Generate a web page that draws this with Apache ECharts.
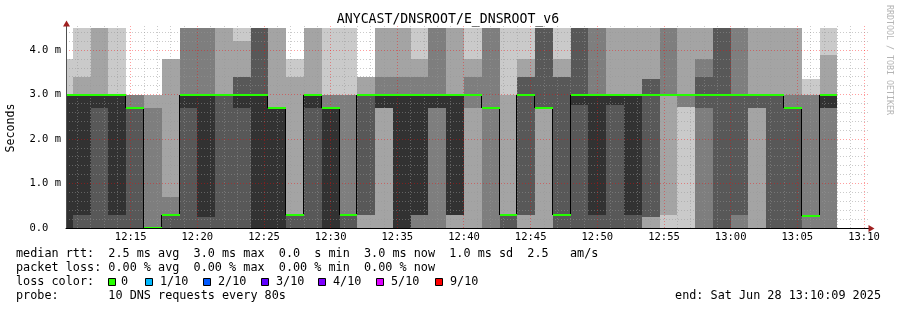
<!DOCTYPE html>
<html><head><meta charset="utf-8">
<script src="https://cdn.jsdelivr.net/npm/echarts@6/dist/echarts.min.js"></script>
<style>html,body{margin:0;padding:0;background:#fff}#chart{width:897px;height:310px}</style>
</head><body><div id="chart"></div>
<script>
// ---------------- DATA ----------------
const viewStart = "12:10:09";
const viewEnd = "13:10:09";
const stepSeconds = 80;
const colStart = ["12:09:20","12:10:40","12:12:00","12:13:20","12:14:40","12:16:00","12:17:20","12:18:40","12:20:00","12:21:20",
  "12:22:40","12:24:00","12:25:20","12:26:40","12:28:00","12:29:20","12:30:40","12:32:00","12:33:20","12:34:40",
  "12:36:00","12:37:20","12:38:40","12:40:00","12:41:20","12:42:40","12:44:00","12:45:20","12:46:40","12:48:00",
  "12:49:20","12:50:40","12:52:00","12:53:20","12:54:40","12:56:00","12:57:20","12:58:40","13:00:00","13:01:20",
  "13:02:40","13:04:00","13:05:20","13:06:40"];
// sorted ping ranks (ms), 10 pings per column
const p1 = [0,0,0,0,0,0,0,0,0,0, 0,0,0,0,0,0,0,0,0,0, 0,0,0,0,0,0,0,0,0,0, 0,0,0,0,0,0,0,0,0,0, 0,0,0,0];
const p2 = [0,0,0,0,0,0,0,0,0,0, 0,0,0,0,0,0,0,0,0,0, 0,0,0,0,0,0,0,0,0,0, 0,0,0,0,0.3,2.73,0,0,0,0, 0,0,0,0];
const p3 = [0,0,0,0,0,0,0,0,0,0, 0,0,0,0,0,0,0,0.3,2.7,0, 0,0,0.3,2.7,0,0,0.3,2.7,0,0, 0,0,0,0.25,3.0,2.73,0,0,0,2.7, 0,0,0,0];
const p4 = [0,0,0,0,0,0,0,0,0,0, 0,0,0,0,0,0,0,0.3,2.7,0, 0.3,2.7,0.3,3.0,2.7,0,0.3,2.7,0,0, 0,0,0,0.25,3.0,3.0,2.7,0,0.3,2.7, 0,0,0.28,2.7];
const p5 = [0,0.3,2.7,0.3,2.7,0,0.3,2.7,0.25,3.0, 2.7,0,0,0.3,2.7,0,0.3,3.0,2.7,0, 0.3,2.7,0.3,3.0,2.7,0.3,3.0,2.7,0.3,2.77, 0.3,2.77,0.3,3.0,3.0,3.0,3.0,3.0,3.0,3.0, 3.0,2.7,0.28,2.7];
const p6 = [3.0,3.0,3.0,3.0,2.7,0,0.3,3.0,3.0,3.0, 3.0,3.0,2.7,0.3,3.0,2.7,0.3,3.0,3.0,3.0, 3.0,3.0,3.0,3.0,2.7,0.3,3.0,2.7,0.3,3.0, 3.0,3.0,3.0,3.0,3.0,3.0,3.0,3.0,3.0,3.0, 3.0,2.7,0.28,3.0];
const p7 = [3.0,3.0,3.0,3.0,2.7,0,0.3,3.0,3.0,3.0, 3.4,4.6,2.7,0.3,3.0,2.7,0.3,3.0,3.0,3.0, 3.0,3.0,3.0,3.0,2.7,0.3,3.4,4.6,3.4,4.6, 3.0,3.0,3.0,3.35,3.0,3.0,3.4,4.6,3.0,3.0, 3.0,2.7,0.28,3.0];
const p8 = [3.0,3.0,3.0,3.0,3.0,2.7,0.7,4.6,4.6,3.0, 3.4,4.6,2.7,0.3,3.0,3.0,3.0,3.0,3.4,3.4, 3.4,4.6,3.0,3.4,4.6,0.3,3.4,4.6,3.4,4.6, 4.6,3.0,3.0,3.35,4.6,3.0,3.8,4.6,4.6,3.0, 3.0,3.0,3.0,3.0];
const p9 = [3.0,3.4,4.6,3.0,3.0,3.0,3.8,4.6,4.6,4.6, 4.2,4.6,4.6,3.4,4.6,3.0,3.0,3.4,4.6,4.6, 3.8,4.6,4.6,3.8,4.6,3.0,3.8,4.6,3.8,4.6, 4.6,4.6,4.6,4.6,4.6,4.6,4.6,4.6,4.6,4.6, 4.6,4.6,3.0,3.9];
const p10 = [3.8,4.6,4.6,4.6,3.0,3.0,3.8,4.6,4.6,4.6, 4.6,4.6,4.6,3.8,4.6,4.6,4.6,3.4,4.6,4.6, 4.6,4.6,4.6,4.6,4.6,4.6,4.6,4.6,4.6,4.6, 4.6,4.6,4.6,4.6,4.6,4.6,4.6,4.6,4.6,4.6, 4.6,4.6,3.35,4.6];
const median = [3.0,3.0,3.0,3.0,2.7,0,0.3,3.0,3.0,3.0, 3.0,3.0,2.7,0.3,3.0,2.7,0.3,3.0,3.0,3.0, 3.0,3.0,3.0,3.0,2.7,0.3,3.0,2.7,0.3,3.0, 3.0,3.0,3.0,3.0,3.0,3.0,3.0,3.0,3.0,3.0, 3.0,2.7,0.28,3.0];

const xTickLabels = ["12:15","12:20","12:25","12:30","12:35","12:40","12:45","12:50","12:55","13:00","13:05","13:10"];
const gridMinutes = ["12:11","12:12","12:13","12:14","12:16","12:17","12:18","12:19","12:21","12:22","12:23","12:24",
  "12:26","12:27","12:28","12:29","12:31","12:32","12:33","12:34","12:36","12:37","12:38","12:39","12:41","12:42","12:43","12:44",
  "12:46","12:47","12:48","12:49","12:51","12:52","12:53","12:54","12:56","12:57","12:58","12:59","13:01","13:02","13:03","13:04",
  "13:06","13:07","13:08","13:09"];
const yTickValues = [0,1,2,3,4];
const yTickLabels = ["0.0  ","1.0 m","2.0 m","3.0 m","4.0 m"];
const yMinorValues = [0.2,0.4,0.6,0.8,1.2,1.4,1.6,1.8,2.2,2.4,2.6,2.8,3.2,3.4,3.6,3.8,4.2,4.4];

const lossLabels = ["0","1/10","2/10","3/10","4/10","5/10","9/10"];
const lossColors = ["#26ff00","#00b8ff","#0059ff","#5e00ff","#7e00ff","#dd00ff","#ff0000"];

const legendLines = [
  "median rtt:  2.5 ms avg  3.0 ms max  0.0  s min  3.0 ms now  1.0 ms sd  2.5   am/s",
  "packet loss: 0.00 % avg  0.00 % max  0.00 % min  0.00 % now",
  "loss color:",
  "probe:       10 DNS requests every 80s"
];
const endText = "end: Sat Jun 28 13:10:09 2025";
const titleText = "ANYCAST/DNSROOT/E_DNSROOT_v6";

// ---------------- BUILD ----------------
const toSec = s => { const a = s.split(':').map(Number); return (a[0]-12)*3600 + a[1]*60 + (a[2]||0); };
const pad = n => String(n).padStart(2,'0');
const fmtTime = v => { const h = 12 + Math.floor(v/3600); const m = Math.floor((v%3600)/60); return pad(h)+':'+pad(m); };
const FONT = '"DejaVu Sans Mono"';
const shades = ['#cacaca','#a4a4a4','#7e7e7e','#585858','#323232'];
const ranks = [p1,p2,p3,p4,p5,p6,p7,p8,p9,p10];

const smokeData = colStart.map((t,i) => [toSec(t), toSec(t)+stepSeconds].concat(ranks.map(r => r[i])));
const medianData = colStart.map((t,i) => [toSec(t), toSec(t)+stepSeconds, median[i]]);
const connData = [];
for (let i = 1; i < colStart.length; i++) {
  if (median[i] !== median[i-1]) connData.push([toSec(colStart[i]), median[i-1], median[i]]);
}
const majorSet = xTickLabels.map(toSec);
const vGridData = majorSet.map(v => [v, 1]).concat(gridMinutes.map(m => [toSec(m), 0]));
const hGridData = yTickValues.filter(v => v > 0).map(v => [v, 1]).concat(yMinorValues.map(v => [v, 0]));

const chart = echarts.init(document.getElementById('chart'), null, {renderer:'canvas'});
const clipBox = cs => ({x: cs.x, y: cs.y, width: cs.width, height: cs.height});

const option = {
  animation: false,
  backgroundColor: '#ffffff',
  grid: {left: 66, top: 28, width: 800, height: 200, containLabel: false, outerBoundsMode: 'none'},
  xAxis: {
    type: 'value', min: toSec(viewStart), max: toSec(viewEnd), z: 10,
    axisLine: {show: true, lineStyle: {color: '#000', width: 1}},
    axisTick: {show: false}, splitLine: {show: false}, minorSplitLine: {show: false},
    axisLabel: {customValues: majorSet, formatter: v => (majorSet.indexOf(v) >= 0 ? fmtTime(v) : ''),
      fontFamily: 'DejaVu Sans Mono', fontSize: 10.5, color: '#000', margin: 4, showMinLabel: true, showMaxLabel: true}
  },
  yAxis: {
    type: 'value', min: 0, max: 4.5, interval: 1, z: 10,
    axisLine: {show: true, lineStyle: {color: '#505050', width: 1}},
    axisTick: {show: false}, splitLine: {show: false},
    axisLabel: {customValues: yTickValues, formatter: v => { const i = yTickValues.indexOf(v); return i >= 0 ? yTickLabels[i] : ''; },
      fontFamily: 'DejaVu Sans Mono', fontSize: 10.5, color: '#000', margin: 5},
    name: 'Seconds', nameLocation: 'middle', nameGap: 55, nameRotate: 90,
    nameTextStyle: {fontFamily: 'DejaVu Sans Mono', fontSize: 11.6, color: '#000', verticalAlign: 'middle'}
  },
  series: [
    {
      type: 'custom', name: 'smoke', z: 2, silent: true,
      encode: {x: [0,1], y: [2,3,4,5,6,7,8,9,10,11]},
      data: smokeData,
      renderItem: (params, api) => {
        const cs = params.coordSys;
        const xs = Math.round(api.coord([api.value(0), 0])[0]);
        const xe = Math.round(api.coord([api.value(1), 0])[0]);
        const children = [];
        for (let k = 0; k < 5; k++) {
          const lo = api.value(2 + k), hi = api.value(11 - k);
          if (!(hi > lo)) continue;
          const yT = Math.round(api.coord([0, hi])[1]);
          const yB = Math.round(api.coord([0, lo])[1]);
          const shape = echarts.graphic.clipRectByRect({x: xs, y: yT, width: xe - xs, height: yB - yT}, clipBox(cs));
          if (shape && shape.width > 0 && shape.height > 0) children.push({type: 'rect', shape: shape, style: {fill: shades[k]}});
        }
        return {type: 'group', children: children};
      }
    },
    {
      type: 'custom', name: 'vgrid', z: 3, silent: true,
      encode: {x: 0}, data: vGridData,
      renderItem: (params, api) => {
        const cs = params.coordSys;
        const x = Math.floor(api.coord([api.value(0), 0])[0]) + 0.5;
        const major = api.value(1) === 1;
        return {type: 'line', shape: {x1: x, y1: cs.y - 2, x2: x, y2: cs.y + cs.height},
          style: {stroke: major ? 'rgba(255,0,0,0.38)' : 'rgba(150,150,150,0.5)', lineWidth: 1, lineDash: [1,2]}};
      }
    },
    {
      type: 'custom', name: 'hgrid', z: 3, silent: true,
      encode: {y: 0}, data: hGridData,
      renderItem: (params, api) => {
        const cs = params.coordSys;
        const y = Math.floor(api.coord([0, api.value(0)])[1]) + 0.5;
        const major = api.value(1) === 1;
        return {type: 'line', shape: {x1: cs.x, y1: y, x2: cs.x + cs.width + 2, y2: y},
          style: {stroke: major ? 'rgba(255,0,0,0.38)' : 'rgba(150,150,150,0.5)', lineWidth: 1, lineDash: [1,2]}};
      }
    },
    {
      type: 'custom', name: 'median-steps', z: 4, silent: true,
      encode: {x: 0, y: [1,2]}, data: connData,
      renderItem: (params, api) => {
        const x = Math.round(api.coord([api.value(0), 0])[0]) - 0.5;
        const y1 = Math.round(api.coord([0, api.value(1)])[1]);
        const y2 = Math.round(api.coord([0, api.value(2)])[1]);
        return {type: 'line', shape: {x1: x, y1: y1, x2: x, y2: y2}, style: {stroke: '#000', lineWidth: 1}};
      }
    },
    {
      type: 'custom', name: 'median', z: 5, silent: true,
      encode: {x: [0,1], y: 2}, data: medianData,
      renderItem: (params, api) => {
        const cs = params.coordSys;
        const xs = Math.max(cs.x, Math.round(api.coord([api.value(0), 0])[0]));
        const xe = Math.min(cs.x + cs.width, Math.round(api.coord([api.value(1), 0])[0]));
        const y = Math.round(api.coord([0, api.value(2)])[1]);
        if (xe <= xs) return null;
        return {type: 'line', shape: {x1: xs, y1: y, x2: xe, y2: y}, style: {stroke: lossColors[0], lineWidth: 2}};
      }
    }
  ],
  graphic: []
};

const g = [];
g.push({type: 'text', x: 448, y: 20, style: {text: titleText, font: '13.2px ' + FONT, fill: '#000', align: 'center', verticalAlign: 'middle'}});
g.push({type: 'text', x: 889, y: 60, rotation: -Math.PI/2, style: {text: 'RRDTOOL / TOBI OETIKER', font: '8.3px ' + FONT, fill: '#b4b4b4', align: 'center', verticalAlign: 'middle'}});
const lineY = [254, 268, 281.7, 295.7];
legendLines.forEach((t, i) => g.push({type: 'text', x: 16, y: lineY[i], style: {text: t, font: '11.8px ' + FONT, fill: '#000', align: 'left', verticalAlign: 'middle'}}));
const boxX = [108.5, 145.5, 203.5, 261.5, 318.5, 376.5, 435.5];
const lblX = [121, 160, 218, 276, 333, 391, 450];
lossLabels.forEach((t, i) => {
  g.push({type: 'rect', shape: {x: boxX[i], y: 278.5, width: 7, height: 7}, style: {fill: lossColors[i], stroke: '#000', lineWidth: 1}});
  g.push({type: 'text', x: lblX[i], y: lineY[2], style: {text: t, font: '11.8px ' + FONT, fill: '#000', align: 'left', verticalAlign: 'middle'}});
});
g.push({type: 'text', x: 881, y: lineY[3], style: {text: endText, font: '11.8px ' + FONT, fill: '#000', align: 'right', verticalAlign: 'middle'}});
// axis arrows
g.push({type: 'line', shape: {x1: 66.5, y1: 28, x2: 66.5, y2: 24}, style: {stroke: '#505050', lineWidth: 1}});
g.push({type: 'polygon', shape: {points: [[66.5, 20.5], [63, 26.5], [70, 26.5]]}, style: {fill: '#a02020'}});
g.push({type: 'line', shape: {x1: 866, y1: 228.5, x2: 869, y2: 228.5}, style: {stroke: '#000', lineWidth: 1}});
g.push({type: 'polygon', shape: {points: [[874.5, 228.5], [868.5, 225], [868.5, 232]]}, style: {fill: '#a02020'}});
option.graphic = g;

chart.setOption(option);
</script>
</body></html>
